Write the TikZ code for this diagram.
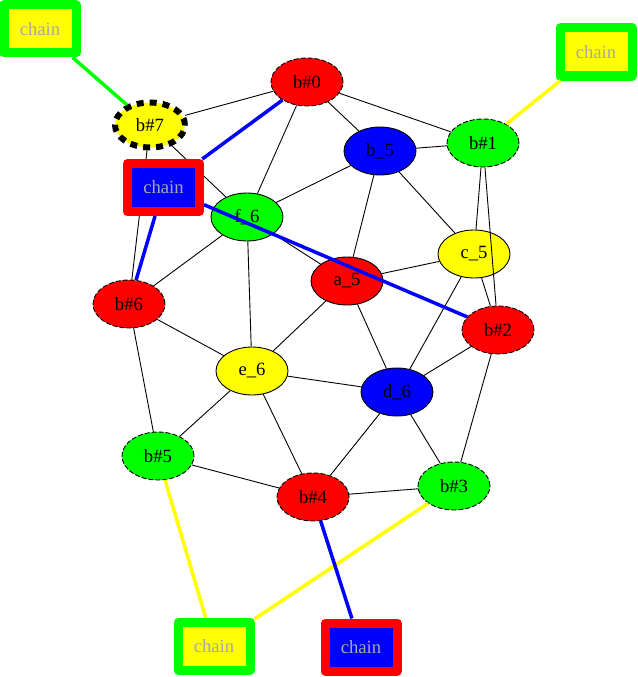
\documentclass[tikz,border=0pt]{standalone}
\usepackage{fontspec}
\setmainfont{Liberation Serif}
\usetikzlibrary{shapes.geometric}
\definecolor{gvred}{RGB}{255,0,0}
\definecolor{gvblue}{RGB}{0,0,255}
\definecolor{gvgreen}{RGB}{0,255,0}
\definecolor{gvyellow}{RGB}{255,255,0}
\definecolor{chaingray}{RGB}{168,168,168}
\begin{document}
\begin{tikzpicture}[x=1pt,y=-1pt,
  gvfont/.style={font=\fontsize{18.67}{20}\selectfont},
  nd/.style={ellipse, draw=black, line width=0.9pt, minimum width=72pt, minimum height=48pt, inner sep=0pt, gvfont},
  dsh/.style={dash pattern=on 5pt off 2pt},
  fatdash/.style={line width=6pt, dash pattern=on 7pt off 6pt},
  ch/.style={rectangle, line width=9pt, line join=round, minimum width=72pt, minimum height=48pt, inner sep=0pt, text=chaingray, gvfont},
  chy/.style={ch, draw=gvgreen, fill=gvyellow},
  chb/.style={ch, draw=gvred, fill=gvblue},
  e/.style={draw=black, line width=0.9pt},
  th/.style={line width=3.5pt}]
\useasboundingbox (0,0) rectangle (637,677);
% ellipse nodes
\node[nd, dsh, fill=gvred] (b0) at (307,82) {b\#0};
\node[nd, fatdash, fill=gvyellow, minimum width=70pt, minimum height=45pt] (b7) at (150,125) {b\#7};
\node[nd, fill=gvblue] (b5) at (380,151) {b\_5};
\node[nd, dsh, fill=gvgreen] (b1) at (483,143) {b\#1};
\node[nd, fill=gvgreen] (f6) at (247,217) {f\_6};
\node[nd, fill=gvyellow] (c5) at (474,254) {c\_5};
\node[nd, fill=gvred] (a5) at (347,281) {a\_5};
\node[nd, dsh, fill=gvred] (b6) at (129,304) {b\#6};
\node[nd, dsh, fill=gvred] (b2) at (498,330) {b\#2};
\node[nd, fill=gvyellow] (e6) at (252,371) {e\_6};
\node[nd, fill=gvblue] (d6) at (397,392) {d\_6};
\node[nd, dsh, fill=gvgreen] (bb5) at (158,456) {b\#5};
\node[nd, dsh, fill=gvgreen] (b3) at (454,486) {b\#3};
\node[nd, dsh, fill=gvred] (b4) at (313,497) {b\#4};
% black edges
\draw[e] (b0) -- (b7);
\draw[e] (b0) -- (b5);
\draw[e] (b0) -- (b1);
\draw[e] (b0) -- (f6);
\draw[e] (b7) -- (b6);
\draw[e] (b7) -- (f6);
\draw[e] (b5) -- (b1);
\draw[e] (b5) -- (f6);
\draw[e] (b5) -- (a5);
\draw[e] (b5) -- (c5);
\draw[e] (b1) -- (c5);
\draw[e] (b1) -- (b2);
\draw[e] (f6) -- (b6);
\draw[e] (f6) -- (e6);
\draw[e] (f6) -- (a5);
\draw[e] (c5) -- (a5);
\draw[e] (c5) -- (b2);
\draw[e] (c5) -- (d6);
\draw[e] (a5) -- (e6);
\draw[e] (a5) -- (d6);
\draw[e] (b6) -- (e6);
\draw[e] (b6) -- (bb5);
\draw[e] (b2) -- (d6);
\draw[e] (b2) -- (b3);
\draw[e] (e6) -- (d6);
\draw[e] (e6) -- (bb5);
\draw[e] (e6) -- (b4);
\draw[e] (d6) -- (b4);
\draw[e] (d6) -- (b3);
\draw[e] (b4) -- (b3);
\draw[e] (b4) -- (bb5);
% chain nodes
\node[chy] (cTL) at (40,29) {chain};
\node[chy] (cTR) at (596,52) {chain};
\node[chb] (cL) at (163.5,187.5) {chain};
\node[chy] (cBL) at (214,646) {chain};
\node[chb] (cBR) at (361,647) {chain};
% coloured edges
\draw[th, gvgreen] (cTL) -- (b7);
\draw[th, gvyellow] (cTR) -- (b1);
\draw[th, gvblue] (cL) -- (b0);
\draw[th, gvblue] (cL) -- (b6);
\draw[th, gvblue] (cL) -- (b2);
\draw[th, gvyellow] (cBL) -- (bb5);
\draw[th, gvyellow] (cBL) -- (b3);
\draw[th, gvblue] (cBR) -- (b4);
\end{tikzpicture}
\end{document}
